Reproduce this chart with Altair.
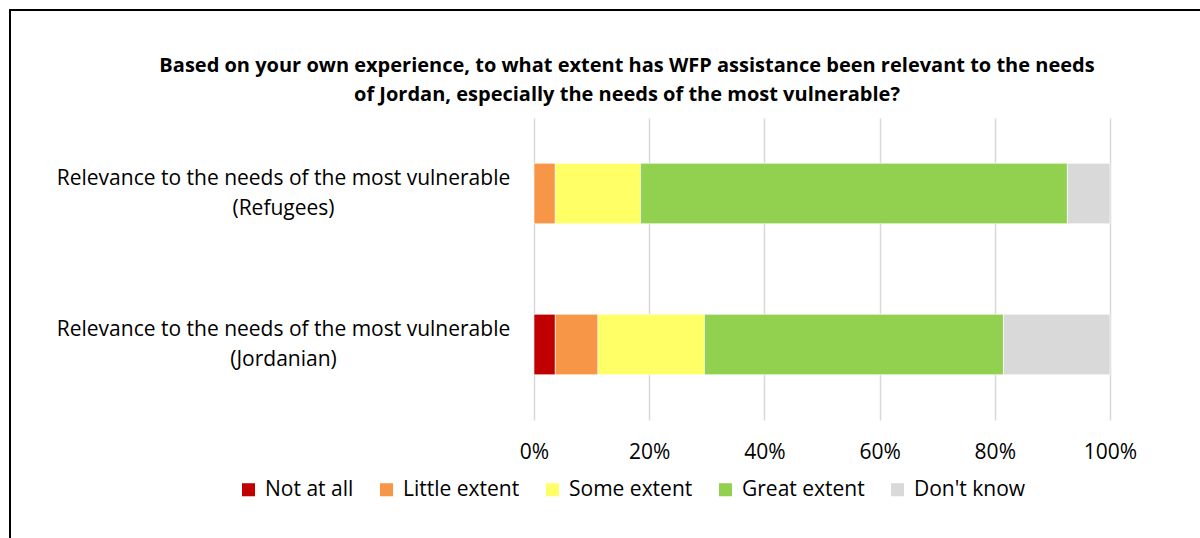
import altair as alt
import pandas as pd

# Survey responses (share of respondents) per group
groups = [
    "Relevance to the needs of the most vulnerable|(Refugees)",
    "Relevance to the needs of the most vulnerable|(Jordanian)",
]
responses = ["Not at all", "Little extent", "Some extent", "Great extent", "Don't know"]
colors = ["#c00000", "#f79646", "#ffff66", "#92d050", "#d9d9d9"]
refugees = [0.0, 3.7, 14.8, 74.1, 7.4]
jordanian = [3.7, 7.4, 18.5, 51.9, 18.5]

rows = []
for g, vals in zip(groups, [refugees, jordanian]):
    for i, (r, v) in enumerate(zip(responses, vals)):
        rows.append({"group": g, "response": r, "share": v / 100, "order": i})
df = pd.DataFrame(rows)

FONT = "Open Sans"
FS = 21

bars = alt.Chart(df).mark_bar(stroke="white", strokeWidth=0.6).encode(
    x=alt.X(
        "share:Q",
        stack="zero",
        scale=alt.Scale(domain=[0, 1], nice=False),
        axis=alt.Axis(
            format=".0%", values=[0, 0.2, 0.4, 0.6, 0.8, 1.0], title=None,
            ticks=False, domain=False, grid=True, gridColor="#d9d9d9",
            gridWidth=1.5, labelPadding=21, labelFontSize=FS,
            labelColor="#000000", labelFont=FONT, labelFlush=False,
        ),
    ),
    y=alt.Y(
        "group:N",
        sort=groups,
        scale=alt.Scale(paddingInner=0.6, paddingOuter=0.3),
        axis=alt.Axis(
            title=None, ticks=False, domain=False,
            labelExpr="split(datum.label, '|')",
            labelAlign="center", labelPadding=251, labelLineHeight=30,
            labelOffset=-15,
            labelFontSize=FS, labelColor="#000000", labelFont=FONT,
            labelLimit=600,
        ),
    ),
    color=alt.Color(
        "response:N",
        sort=responses,
        scale=alt.Scale(domain=responses, range=colors),
        legend=alt.Legend(
            title=None, orient="none", direction="horizontal",
            legendX=-296, legendY=361,
            symbolType="square", symbolSize=170, symbolStrokeWidth=0,
            labelFontSize=FS, labelFont=FONT, labelColor="#000000",
            labelOffset=6, columnPadding=22,
        ),
    ),
    order=alt.Order("order:Q"),
)

# Outer frame around the chart
frame = alt.Chart(pd.DataFrame({"a": [0]})).mark_rect(
    fill=None, stroke="black", strokeWidth=2
).encode(
    x=alt.value(-524), x2=alt.value(700),
    y=alt.value(-108), y2=alt.value(500),
)

chart = alt.layer(frame, bars).properties(
    width=576,
    height=302,
    title=alt.TitleParams(
        text=[
            "Based on your own experience, to what extent has WFP assistance been relevant to the needs",
            "of Jordan, especially the needs of the most vulnerable?",
        ],
        fontSize=20, fontWeight="bold", font=FONT, color="#000000",
        anchor="middle", frame="group", dx=-195, lineHeight=29, offset=-96,
    ),
    padding={"left": 534, "top": 118, "right": 90, "bottom": 118},
    autosize=alt.AutoSizeParams(type="none"),
).configure_view(stroke=None)

chart.save("out.html", embed_options={"renderer": "svg", "actions": False})
